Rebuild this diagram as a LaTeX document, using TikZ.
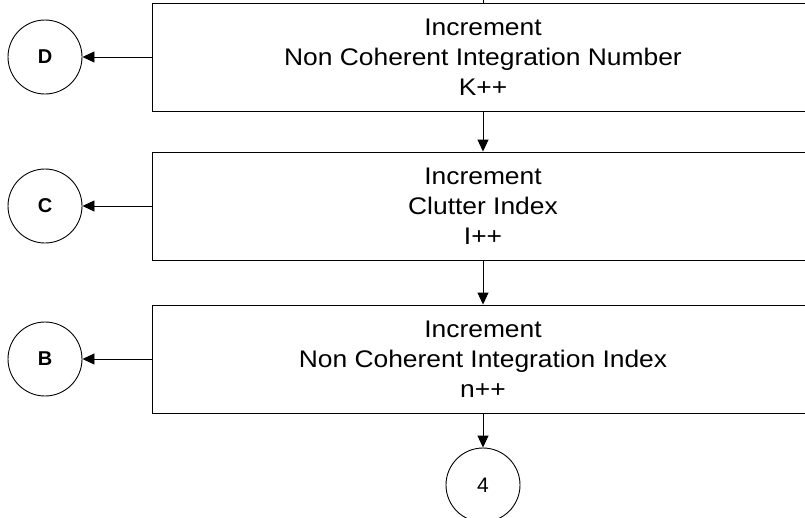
\documentclass[tikz,border=0pt]{standalone}
\usepackage{fontspec}
\setmainfont{Liberation Sans}
\newfontfamily\boxfont[FakeStretch=1.1]{Liberation Sans}
\usetikzlibrary{positioning, arrows.meta}
\tikzset{
    >={Triangle[length=12pt, width=11pt]}, % filled triangle heads
    stepbox/.style={draw, minimum width=662pt, minimum height=108pt, align=center, font=\boxfont\fontsize{24}{30}\selectfont},
    jump/.style={draw, circle, minimum size=74pt, inner sep=0pt, font=\fontsize{20}{24}\selectfont\bfseries},
    jumpnum/.style={jump, font=\fontsize{21}{24}\selectfont},
}

\begin{document}
\begin{tikzpicture}[x=1pt, y=1pt, on grid, line width=0.9pt]
    \useasboundingbox (0,0) rectangle (805,-517);
    % Boxes
    \node[stepbox] (K) at (483,-57) {Increment\\Non Coherent Integration Number\\K++};
    \node[stepbox] (L) [below=149pt of K] {Increment\\Clutter Index\\I++};
    \node[stepbox] (N) [below=153pt of L] {Increment\\Non Coherent Integration Index\\n++};
    \node[jumpnum] (four) [below=126pt of N] {4};
    % Off-page connectors
    \node[jump] (D) [left=438pt of K] {D};
    \node[jump] (C) [left=438pt of L] {C};
    \node[jump] (B) [left=438pt of N] {B};
    \coordinate (in) at (483,0);

    % Links
    \draw (in) -- (K);
    \draw[->] (K) -- (L);
    \draw[->] (L) -- (N);
    \draw[->] (N) -- (four);
    \draw[->] (K) -- (D);
    \draw[->] (L) -- (C);
    \draw[->] (N) -- (B);
\end{tikzpicture}
\end{document}
